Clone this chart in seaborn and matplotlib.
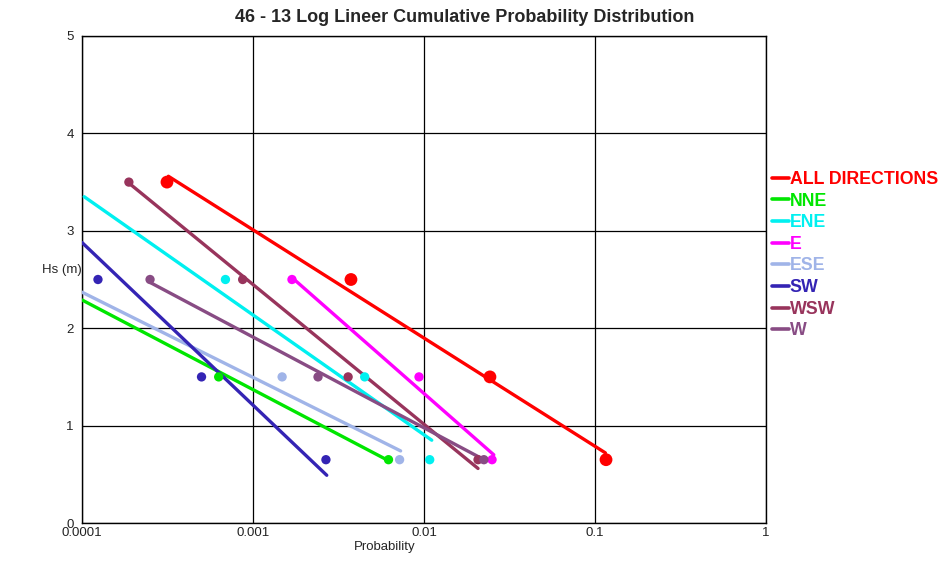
import numpy as np
import pandas as pd
import matplotlib
matplotlib.use("Agg")
import matplotlib.pyplot as plt
from matplotlib.lines import Line2D
import seaborn as sns

# 방향별 색상
directions = ['ALL DIRECTIONS', 'NNE', 'ENE', 'E', 'ESE', 'SW', 'WSW', 'W']
colors = ['#ff0000', '#00e600', '#00f0f0', '#ff00ff', '#a0b4e8', '#3424b4', '#98345c', '#884c84']

# 관측점 (확률, Hs)
pt_dir = (['ALL DIRECTIONS'] * 4 + ['NNE'] * 2 + ['ENE'] * 3 + ['E'] * 3 +
          ['ESE'] * 2 + ['SW'] * 3 + ['WSW'] * 4 + ['W'] * 3)
pt_prob = [3.14e-4, 3.74e-3, 0.0243, 0.116,
           6.3e-4, 6.2e-3,
           6.9e-4, 4.5e-3, 0.0108,
           1.69e-3, 9.35e-3, 0.025,
           1.48e-3, 7.2e-3,
           1.24e-4, 5.0e-4, 2.67e-3,
           1.88e-4, 8.7e-4, 3.6e-3, 0.0207,
           2.5e-4, 2.4e-3, 0.0224]
pt_hs = [3.5, 2.5, 1.5, 0.65,
         1.5, 0.65,
         2.5, 1.5, 0.65,
         2.5, 1.5, 0.65,
         1.5, 0.65,
         2.5, 1.5, 0.65,
         3.5, 2.5, 1.5, 0.65,
         2.5, 1.5, 0.65]

# 회귀선 시작/끝점
fit_p0 = [3.2e-4, 1.0e-4, 1.03e-4, 1.69e-3, 1.0e-4, 1.0e-4, 1.88e-4, 2.5e-4]
fit_hs0 = [3.56, 2.29, 3.35, 2.52, 2.37, 2.88, 3.49, 2.47]
fit_p1 = [0.115, 6.2e-3, 0.0111, 0.0256, 7.3e-3, 2.7e-3, 0.0207, 0.023]
fit_hs1 = [0.72, 0.64, 0.85, 0.70, 0.74, 0.49, 0.56, 0.64]

xticks = [0.0001, 0.001, 0.01, 0.1, 1]
xtick_labels = ['0.0001', '0.001', '0.01', '0.1', '1']
yticks = [0, 1, 2, 3, 4, 5]

points = pd.DataFrame({'dir': pt_dir, 'p': pt_prob, 'hs': pt_hs})
lines = pd.DataFrame({
    'dir': directions * 2,
    'p': fit_p0 + fit_p1,
    'hs': fit_hs0 + fit_hs1,
    'order': [0] * len(directions) + [1] * len(directions),
}).sort_values(['dir', 'order'])
palette = dict(zip(directions, colors))

sns.set_style("white")
plt.rcParams['font.family'] = ['Liberation Sans', 'DejaVu Sans']

fig = plt.figure(figsize=(9.45, 5.62), dpi=100)
ax = fig.add_axes([82 / 945, 39 / 562, 684 / 945, 487 / 562])

sns.lineplot(data=lines, x='p', y='hs', hue='dir', palette=palette, hue_order=directions,
             sort=False, estimator=None, linewidth=2.4, legend=False, ax=ax, zorder=3)

big = points['dir'] == 'ALL DIRECTIONS'
sns.scatterplot(data=points[~big], x='p', y='hs', hue='dir', palette=palette,
                hue_order=directions, s=45, linewidth=0, legend=False, ax=ax, zorder=4)
sns.scatterplot(data=points[big], x='p', y='hs', hue='dir', palette=palette,
                hue_order=directions, s=85, linewidth=0, legend=False, ax=ax, zorder=4)

ax.set_xscale('log')
ax.set_xlim(1e-4, 1)
ax.set_ylim(0, 5)
ax.set_xticks(xticks)
ax.set_xticklabels(xtick_labels)
ax.set_yticks(yticks)
ax.minorticks_off()
ax.tick_params(length=0, labelsize=9.5, pad=3, colors='#222222')
ax.tick_params(axis='y', pad=6)
ax.grid(True, color='black', linewidth=0.9)
for s in ax.spines.values():
    s.set_color('black')
    s.set_linewidth(1.0)

ax.set_xlabel('Probability', fontsize=9.5)
ax.set_ylabel('')
ax.xaxis.set_label_coords((385 - 82) / 684, -0.036)

fig.text(42 / 945, 1 - 270 / 562, 'Hs (m)', fontsize=9.5, va='center', ha='left', zorder=-1)
fig.text(465 / 945, 1 - 17 / 562, '46 - 13 Log Lineer Cumulative Probability Distribution',
         fontsize=13, fontweight='bold', ha='center', va='center')

handles = [Line2D([0], [0], color=c, linewidth=2.6) for c in colors]
fig.legend(handles, directions, loc='upper left', bbox_to_anchor=(772 / 945, 1 - 171 / 562),
           frameon=False, labelcolor='linecolor', handlelength=0.95, handletextpad=0.05,
           labelspacing=0.26, borderaxespad=0, borderpad=0,
           prop={'weight': 'bold', 'size': 12.8})

fig.savefig('out.png', dpi=100)
